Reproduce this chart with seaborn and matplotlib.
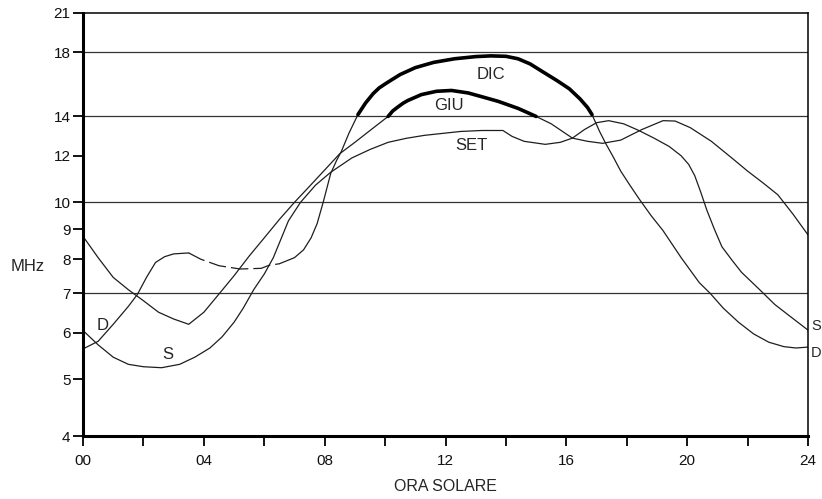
import matplotlib
matplotlib.use("Agg")
import matplotlib.pyplot as plt
import matplotlib.ticker as mticker
import seaborn as sns

# ora solare (h) e frequenza (MHz)
dic_ore = [0.0, 0.5, 1.0, 1.5, 1.8, 2.1, 2.4, 2.7, 3.0, 3.5, 3.9, 4.5, 5.2, 5.9, 6.15,
           6.5, 7.0, 7.3, 7.55, 7.75, 7.95, 8.2, 8.4, 8.55, 8.8, 9.1, 9.35, 9.6, 9.8, 10.0,
           10.25, 10.5, 11.0, 11.6, 12.3, 13.0, 13.5, 14.0, 14.4, 14.8, 15.2, 15.7, 16.1,
           16.45, 16.7, 16.85, 17.1, 17.3, 17.55, 17.8, 18.1, 18.4, 18.8, 19.2, 19.8, 20.4,
           20.76, 21.2, 21.7, 22.2, 22.7, 23.2, 23.6, 24.0]
dic_mhz = [5.63, 5.8, 6.2, 6.65, 6.97, 7.45, 7.9, 8.08, 8.17, 8.2, 8.0, 7.8, 7.7, 7.72, 7.81,
           7.86, 8.05, 8.3, 8.7, 9.2, 10.0, 11.2, 11.8, 12.2, 13.1, 14.1, 14.75, 15.3, 15.65,
           15.9, 16.2, 16.5, 16.95, 17.3, 17.55, 17.7, 17.75, 17.72, 17.55, 17.2, 16.7, 16.1,
           15.6, 15.0, 14.5, 14.1, 13.2, 12.6, 11.95, 11.3, 10.7, 10.15, 9.5, 8.95, 8.05,
           7.3, 7.0, 6.6, 6.25, 5.97, 5.78, 5.68, 5.65, 5.67]

giu_ore = [0.0, 0.5, 1.0, 1.5, 2.0, 2.5, 3.0, 3.5, 4.0, 4.5, 5.0, 5.5, 6.0, 6.5, 7.0, 7.5,
           8.0, 8.5, 9.0, 9.5, 10.1, 10.25, 10.4, 10.6, 10.75, 11.2, 11.7, 12.2, 12.75,
           13.25, 13.75, 14.4, 15.0, 15.5, 16.2, 16.7, 17.2, 17.8, 18.5, 19.2, 19.6, 20.1,
           20.8, 21.5, 22.0, 22.5, 23.0, 23.5, 24.0]
giu_mhz = [8.75, 8.05, 7.45, 7.1, 6.8, 6.5, 6.33, 6.2, 6.5, 6.98, 7.5, 8.1, 8.7, 9.35, 10.0,
           10.65, 11.35, 12.1, 12.65, 13.25, 14.0, 14.3, 14.5, 14.75, 14.9, 15.25, 15.45,
           15.5, 15.35, 15.1, 14.85, 14.45, 14.0, 13.6, 12.86, 12.7, 12.6, 12.76, 13.3,
           13.77, 13.75, 13.4, 12.7, 11.87, 11.3, 10.8, 10.3, 9.55, 8.8]

set_ore = [0.0, 0.5, 1.0, 1.5, 2.0, 2.6, 3.2, 3.7, 4.2, 4.6, 5.0, 5.3, 5.65, 6.0, 6.3, 6.8,
           7.2, 7.7, 8.2, 8.9, 9.5, 10.1, 10.7, 11.3, 11.9, 12.5, 13.2, 13.9, 14.2, 14.6,
           15.3, 15.8, 16.2, 16.6, 17.0, 17.4, 17.9, 18.4, 18.9, 19.4, 19.8, 20.05, 20.25,
           20.45, 20.65, 20.9, 21.15, 21.5, 21.8, 22.4, 22.9, 23.4, 24.0]
set_mhz = [6.05, 5.72, 5.45, 5.3, 5.25, 5.23, 5.3, 5.45, 5.65, 5.9, 6.25, 6.6, 7.1, 7.55,
           8.05, 9.3, 10.0, 10.7, 11.25, 11.9, 12.3, 12.65, 12.85, 13.0, 13.1, 13.2, 13.25,
           13.25, 12.95, 12.7, 12.55, 12.65, 12.86, 13.3, 13.66, 13.77, 13.6, 13.25, 12.86,
           12.45, 12.0, 11.6, 11.1, 10.4, 9.7, 9.0, 8.4, 7.95, 7.6, 7.1, 6.7, 6.4, 6.06]

# tratti particolari
dic_tratteggio = (3.5, 6.5)
dic_spesso = (9.1, 16.85)
giu_spesso = (10.1, 15.0)

yticks = [4, 5, 6, 7, 8, 9, 10, 12, 14, 18, 21]
livelli_griglia = [7, 10, 14, 18]
xticks = list(range(0, 25, 2))
xlabels = [f"{h:02d}" if h % 4 == 0 else "" for h in xticks]


def tratto(ore, mhz, lo, hi):
    sel = [(h, v) for h, v in zip(ore, mhz) if lo <= h <= hi]
    return [p[0] for p in sel], [p[1] for p in sel]


sns.set_style("ticks")
plt.rcParams['font.family'] = ['Liberation Sans', 'DejaVu Sans']

fig, ax = plt.subplots(figsize=(8.22, 4.99), dpi=100)
fig.subplots_adjust(left=0.101, right=0.983, top=0.974, bottom=0.126)

col = "#1e1e1e"
for lv in livelli_griglia:
    ax.axhline(lv, color="#333333", lw=0.9, zorder=1)

# curve sottili
sns.lineplot(x=giu_ore, y=giu_mhz, color=col, lw=0.9, ax=ax)
sns.lineplot(x=set_ore, y=set_mhz, color=col, lw=0.9, ax=ax)
x, y = tratto(dic_ore, dic_mhz, 0, dic_tratteggio[0])
sns.lineplot(x=x, y=y, color=col, lw=0.9, ax=ax)
x, y = tratto(dic_ore, dic_mhz, *dic_tratteggio)
sns.lineplot(x=x, y=y, color=col, lw=0.9, linestyle=(0, (14, 4)), ax=ax)
x, y = tratto(dic_ore, dic_mhz, dic_tratteggio[1], 24)
sns.lineplot(x=x, y=y, color=col, lw=0.9, ax=ax)

# archi spessi
x, y = tratto(dic_ore, dic_mhz, *dic_spesso)
sns.lineplot(x=x, y=y, color="black", lw=2.6, ax=ax)
x, y = tratto(giu_ore, giu_mhz, *giu_spesso)
sns.lineplot(x=x, y=y, color="black", lw=2.6, ax=ax)

ax.set_yscale("log")
ax.set_ylim(4, 21)
ax.set_xlim(0, 24)
ax.set_yticks(yticks)
ax.set_yticklabels([str(v) for v in yticks])
ax.yaxis.set_minor_locator(mticker.NullLocator())
ax.set_xticks(xticks)
ax.set_xticklabels(xlabels)

ax.tick_params(axis="both", direction="out", length=7, width=1.3, color="black",
               labelsize=11, labelcolor="#111111")
ax.tick_params(axis="y", pad=2)
ax.tick_params(axis="x", pad=6)

for side in ["left", "bottom"]:
    ax.spines[side].set_linewidth(2.2)
for side in ["top", "right"]:
    ax.spines[side].set_linewidth(1.1)
for s in ax.spines.values():
    s.set_color("black")

ax.set_xlabel("ORA SOLARE", fontsize=11.5, labelpad=8)
ax.set_ylabel("MHz", fontsize=12, rotation=0, va="center", ha="center")
ax.yaxis.set_label_coords(-0.077, 0.40)

# etichette delle curve
ax.text(13.5, 16.5, "DIC", fontsize=12, ha="center", va="center")
ax.text(12.1, 14.6, "GIU", fontsize=12, ha="center", va="center")
ax.text(12.85, 12.5, "SET", fontsize=12, ha="center", va="center")
ax.text(0.66, 6.17, "D", fontsize=12, ha="center", va="center")
ax.text(2.8, 5.5, "S", fontsize=12, ha="center", va="center")
ax.text(24.1, 6.15, "S", fontsize=10.5, ha="left", va="center", clip_on=False)
ax.text(24.1, 5.55, "D", fontsize=10.5, ha="left", va="center", clip_on=False)

fig.savefig("out.png", dpi=100)
